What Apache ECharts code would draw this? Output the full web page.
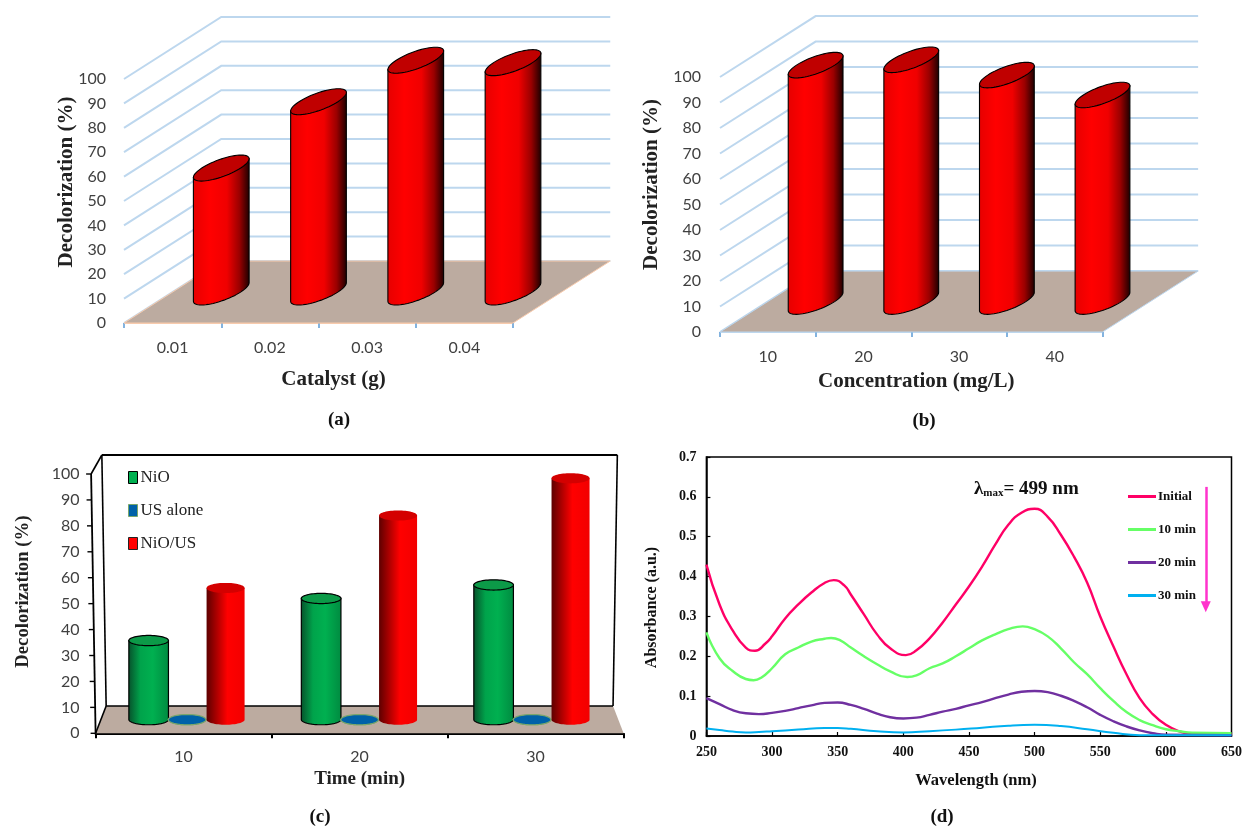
<!DOCTYPE html>
<html><head><meta charset="utf-8">
<style>html,body{margin:0;padding:0;background:#fff}#c{width:1245px;height:828px}</style>
<script src="https://cdn.jsdelivr.net/npm/echarts@6/dist/echarts.min.js"></script>
</head><body><div id="c"></div>
<script>
const ticks100 = [0,10,20,30,40,50,60,70,80,90,100];
const catalystCats = ['0.01','0.02','0.03','0.04'];
const catalystVals = [50.8,78,95,94];
const concCats = ['10','20','30','40'];
const concVals = [92.7,94.8,88.8,81];
const timeCats = ['10','20','30'];
const nioVals = [31,47.5,52.8];
const usVals = [0,0,0];
const nioUsVals = [51.6,80,94.6];
const initialCurve = [[250,.43],[260,.33],[270,.265],[280,.222],[287,.214],[295,.232],[300,.25],[310,.295],[320,.33],[330,.36],[340,.384],[347,.391],[355,.378],[360,.355],[370,.305],[380,.255],[390,.22],[402,.203],[410,.215],[420,.245],[430,.285],[440,.33],[450,.375],[460,.425],[470,.48],[480,.53],[490,.56],[500,.57],[510,.55],[520,.505],[530,.45],[540,.385],[550,.3],[560,.225],[570,.155],[580,.095],[590,.055],[600,.028],[610,.012],[620,.005],[630,.005],[650,.005]];
const tenMinCurve = [[250,.26],[260,.195],[270,.163],[280,.143],[286,.14],[292,.147],[300,.17],[310,.205],[320,.222],[330,.237],[340,.244],[345,.246],[352,.24],[360,.222],[370,.2],[380,.18],[390,.162],[403,.148],[410,.152],[420,.17],[430,.182],[440,.2],[450,.22],[460,.24],[470,.255],[480,.268],[491,.275],[500,.268],[510,.25],[520,.22],[530,.185],[540,.155],[550,.12],[560,.088],[570,.06],[580,.04],[590,.027],[600,.017],[610,.012],[620,.008],[650,.007]];
const twentyMinCurve = [[250,.095],[260,.08],[270,.065],[280,.057],[290,.055],[300,.058],[310,.063],[320,.07],[330,.077],[340,.083],[350,.084],[360,.078],[370,.068],[380,.056],[390,.047],[400,.044],[410,.046],[420,.053],[430,.061],[440,.068],[450,.077],[460,.085],[470,.095],[480,.104],[490,.111],[500,.113],[510,.11],[520,.101],[530,.088],[540,.072],[550,.053],[560,.037],[570,.024],[580,.014],[590,.007],[600,.003],[650,.002]];
const thirtyMinCurve = [[250,.019],[260,.015],[270,.011],[280,.009],[290,.01],[300,.012],[320,.016],[340,.02],[350,.02],[360,.018],[380,.012],[400,.009],[420,.012],[440,.016],[460,.021],[480,.026],[500,.028],[520,.025],[540,.017],[560,.008],[580,.002],[600,.002],[650,.002]];

const SERIF='"Liberation Serif","Times New Roman",serif', SANS='Lato,"Open Sans",sans-serif';
const GRID='#bdd7ee', FLOOR='#bcaba0', TICK='#5b9bd5', LBL='#404040';

function grad(stops){return {type:'linear',x:0,y:0,x2:1,y2:0,colorStops:stops.map(s=>({offset:s[0],color:s[1]}))};}
const redA=grad([[0,'#e60000'],[.3,'#ff0000'],[.6,'#f00000'],[.82,'#9a0000'],[1,'#1a0000']]);
const redC=grad([[0,'#5e0000'],[.28,'#b00000'],[.55,'#ff0000'],[1,'#f20000']]);
const greenC=grad([[0,'#07502b'],[.3,'#00a34b'],[.6,'#00b050'],[1,'#008a40']]);

function ell(c,rx,dx,dy,t){return [c[0]+rx*Math.cos(t)+dx*Math.sin(t),c[1]+dy*Math.sin(t)];}
function cylinder(top,bot,rx,dx,dy,body,cap,stroke,lw){
  const t0=Math.atan2(dx,rx),pts=[],rim=[];
  pts.push(ell(top,rx,dx,dy,t0+Math.PI));
  for(let i=0;i<=32;i++) pts.push(ell(bot,rx,dx,dy,t0-Math.PI+i*Math.PI/32));
  pts.push(ell(top,rx,dx,dy,t0));
  for(let i=0;i<64;i++) rim.push(ell(top,rx,dx,dy,i*Math.PI/32));
  return [
    {type:'polygon',shape:{points:pts},style:{fill:body,stroke:stroke,lineWidth:lw}},
    {type:'polygon',shape:{points:rim},style:{fill:cap,stroke:stroke,lineWidth:lw}}
  ];
}
/* oblique panels (a),(b): depth is one category band to the right and a share of the plot height upwards */
function obliqueGeom(api,n,rise){
  const band=api.size([1,0])[0], y0=api.coord([0,0])[1], h=y0-api.coord([0,100])[1];
  return {band,y0,h,left:api.coord([0,0])[0]-band/2,right:api.coord([0,0])[0]-band/2+band*n,dx:band,dy:rise*h};
}
function wallSeries(name,g,cats,rise){return {type:'custom',name:name,xAxisIndex:g,yAxisIndex:g,silent:true,z:1,
  data:ticks100.map(v=>[cats[0],v]),
  renderItem(p,api){const m=obliqueGeom(api,cats.length,rise),y=api.coord([0,api.value(1)])[1];
    return {type:'polyline',shape:{points:[[m.left,y],[m.left+m.dx,y-m.dy],[m.right+m.dx,y-m.dy]]},style:{fill:'none',stroke:GRID,lineWidth:2}};}};}
function floorSeries(name,g,cats,rise,edge){return {type:'custom',name:name,xAxisIndex:g,yAxisIndex:g,silent:true,z:2,
  data:[[cats[0],0]],
  renderItem(p,api){const m=obliqueGeom(api,cats.length,rise);
    return {type:'polygon',shape:{points:[[m.left,m.y0],[m.right,m.y0],[m.right+m.dx,m.y0-m.dy],[m.left+m.dx,m.y0-m.dy]]},style:{fill:FLOOR,stroke:edge,lineWidth:1}};}};}
function barSeries(name,g,cats,vals,rise){return {type:'custom',name:name,xAxisIndex:g,yAxisIndex:g,z:3,
  data:cats.map((c,i)=>[c,vals[i]]),
  renderItem(p,api){const m=obliqueGeom(api,cats.length,rise),i=api.value(0),v=api.value(1);
    const cx=api.coord([i,0])[0]+m.dx/2, off=m.dy/2;
    const bot=[cx,m.y0-off], top=[cx,api.coord([i,v])[1]-off];
    return {type:'group',children:cylinder(top,bot,.2*m.band,.205*m.band,-.21*m.dy,redA,'#c00000','#000',1.1)};}};}

/* panel (c): slight perspective box */
function persp(api,fx,v,d){
  const band=api.size([1,0])[0],cx=api.coord([1,0])[0],y0=api.coord([0,0])[1],h=y0-api.coord([0,100])[1],yv=api.coord([0,v])[1];
  return [cx+(fx-1.5)*band*(1-.04*d)*(1+.00017*v), yv+(y0-yv)*.032*d-.1053*h*d];
}
const frameC={type:'custom',name:'frame',xAxisIndex:2,yAxisIndex:2,silent:true,z:1,data:[[timeCats[0],0]],
  renderItem(p,api){const L=(a,b,w)=>({type:'line',shape:{x1:a[0],y1:a[1],x2:b[0],y2:b[1]},style:{stroke:'#000',lineWidth:w}});
    const c=[
      {type:'polygon',shape:{points:[persp(api,0,0,0),persp(api,3,0,0),persp(api,3,0,1),persp(api,0,0,1)]},style:{fill:FLOOR}},
      L(persp(api,0,0,1),persp(api,0,100,1),1.6),L(persp(api,0,100,1),persp(api,3,100,1),1.8),
      L(persp(api,3,100,1),persp(api,3,0,1),1.6),L(persp(api,0,0,1),persp(api,3,0,1),1.6),
      L(persp(api,0,0,0),persp(api,0,0,1),1.6),L(persp(api,0,100,0),persp(api,0,100,1),1.6),
      L(persp(api,0,0,0),persp(api,0,100,0),1.8)];
    ticks100.forEach(v=>{const a=persp(api,0,v,0);c.push(L(a,[a[0]-5,a[1]],1.4));});
    return {type:'group',children:c};}};
function barC(name,vals,slot,rxF,body,cap,stroke,colour){return {type:'custom',name:name,xAxisIndex:2,yAxisIndex:2,z:3,itemStyle:{color:colour},
  data:timeCats.map((c,i)=>[c,vals[i]]),
  renderItem(p,api){const i=api.value(0),v=api.value(1),band=api.size([1,0])[0];
    const bot=persp(api,i+.5+slot,0,.5),top=[bot[0],persp(api,i+.5+slot,v,.5)[1]];
    return {type:'group',children:cylinder(top,bot,rxF*band,0,-.029*band,body,cap,stroke,stroke==='none'?0:1.2)};}};}

function cat3d(g,cats,edge,nameTxt,gap,pad,lblMargin,fs){return {type:'category',gridIndex:g,data:cats,nameMoveOverlap:false,
  axisLine:{lineStyle:{color:edge,width:g===2?2:1}},axisTick:{show:true,length:5,alignWithLabel:false,lineStyle:{color:g===2?'#000':TICK,width:g===2?2:1.5}},
  axisLabel:{interval:0,margin:lblMargin,color:LBL,fontFamily:SANS,fontSize:16},splitLine:{show:false},
  name:nameTxt,nameLocation:'middle',nameGap:gap,nameTextStyle:{fontFamily:SERIF,fontWeight:'bold',fontSize:fs,color:'#222',padding:pad}};}
function val3d(g,nameTxt,gap,pad,margin,fs){return {type:'value',gridIndex:g,min:0,max:100,interval:10,nameMoveOverlap:false,
  axisLine:{show:false},axisTick:{show:false},splitLine:{show:false},
  axisLabel:{margin:margin,color:LBL,fontFamily:SANS,fontSize:16,padding:[3,0,0,0]},
  name:nameTxt,nameLocation:'middle',nameGap:gap,nameRotate:90,nameTextStyle:{fontFamily:SERIF,fontWeight:'bold',fontSize:fs,color:'#222',padding:pad}};}

const capStyle={fontFamily:SERIF,fontWeight:'bold',fontSize:19,color:'#111'};
const cap=(t,x,y)=>({text:t,left:x,top:y,textAlign:'center',textStyle:capStyle,padding:0});
const boldSerif=(s)=>({fontFamily:SERIF,fontWeight:'bold',fontSize:s,color:'#111'});
const curve=(name,data,colour,w,extra)=>Object.assign({type:'line',name:name,xAxisIndex:3,yAxisIndex:3,data:data,smooth:.5,showSymbol:false,symbol:'none',
     lineStyle:{color:colour,width:w},itemStyle:{color:colour}},extra||{});

const option={
  backgroundColor:'#fff',animation:false,
  title:[cap('(a)',339,411),cap('(b)',924,412),cap('(c)',320,808),cap('(d)',942,808)],
  grid:[
    {left:124,top:79,width:389,height:244},
    {left:720,top:77,width:382.5,height:255},
    {left:95.6,top:474,width:528,height:259.3},
    {left:706.4,top:457,width:528.2,height:279,show:true,borderColor:'#000',borderWidth:1.5}
  ],
  xAxis:[
    cat3d(0,catalystCats,'#f8cbad','Catalyst (g)',46,[0,0,0,30],17,21),
    cat3d(1,concCats,'#bdd7ee','Concentration (mg/L)',39,[0,0,0,10],17,21),
    cat3d(2,timeCats,'#000','Time (min)',36,[0,0,0,0],16,19),
    {type:'value',gridIndex:3,min:250,max:650,interval:50,nameMoveOverlap:false,axisLine:{lineStyle:{color:'#000',width:1.5}},
     axisTick:{inside:true,length:4,lineStyle:{color:'#000',width:1.2}},splitLine:{show:false},
     axisLabel:{margin:9,color:'#111',fontFamily:SERIF,fontWeight:'bold',fontSize:14,hideOverlap:false},
     name:'Wavelength (nm)',nameLocation:'middle',nameGap:36,nameTextStyle:{...boldSerif(16.5),padding:[0,0,0,14]}}
  ],
  yAxis:[
    val3d(0,'Decolorization (%)',47,[0,0,0,38],18,21),
    val3d(1,'Decolorization (%)',58,[0,0,0,40],19,21),
    val3d(2,'Decolorization (%)',63,[0,0,0,24],16,18.7),
    {type:'value',gridIndex:3,min:0,max:.7,interval:.1,nameMoveOverlap:false,axisLine:{lineStyle:{color:'#000',width:1.5}},
     axisTick:{inside:true,length:4,lineStyle:{color:'#000',width:1.2}},splitLine:{show:false},
     axisLabel:{margin:10,color:'#111',fontFamily:SERIF,fontWeight:'bold',fontSize:14},
     name:'Absorbance (a.u.)',nameLocation:'middle',nameGap:47,nameRotate:90,nameTextStyle:{...boldSerif(16),padding:[0,0,0,-22]}}
  ],
  legend:[
    {orient:'vertical',left:128,top:469,padding:0,itemWidth:9,itemHeight:12,itemGap:16,selectedMode:false,icon:'rect',
     textStyle:{fontFamily:SERIF,fontSize:17,color:'#222',padding:[0,0,0,-2]},
     data:[{name:'NiO',itemStyle:{color:'#00b050',borderColor:'#000',borderWidth:1}},
           {name:'US alone',itemStyle:{color:'#0061a8',borderColor:'#7aa76a',borderWidth:1}},
           {name:'NiO/US',itemStyle:{color:'#ff0000',borderColor:'#222',borderWidth:1}}]},
    {orient:'vertical',left:1128,top:490,padding:0,itemWidth:28,itemHeight:3,itemGap:20,selectedMode:false,icon:'rect',
     textStyle:{...boldSerif(13),padding:[0,0,0,-3]},
     data:['Initial','10 min','20 min','30 min']}
  ],
  graphic:[{type:'text',left:974,top:480,silent:true,style:{
     text:'{a|λ}{b|max}{a|= 499 nm}',
     rich:{a:{fontFamily:SERIF,fontWeight:'bold',fontSize:19,fill:'#111',color:'#111'},
           b:{fontFamily:SERIF,fontWeight:'bold',fontSize:11,fill:'#111',color:'#111',padding:[7,0,0,0]}}}}],
  series:[
    wallSeries('walls a',0,catalystCats,.254),floorSeries('floor a',0,catalystCats,.254,'#f8cbad'),
    barSeries('Decolorization a',0,catalystCats,catalystVals,.254),
    wallSeries('walls b',1,concCats,.239),floorSeries('floor b',1,concCats,.239,'#bdd7ee'),
    barSeries('Decolorization b',1,concCats,concVals,.239),
    frameC,
    barC('NiO',nioVals,-.223,.1125,greenC,'#0c9a48','#000','#00b050'),
    barC('US alone',usVals,0,.107,'#0061a8','#0061a8','#7aa76a','#0061a8'),
    barC('NiO/US',nioUsVals,.223,.108,redC,'#d40000','none','#ff0000'),
    curve('Initial',initialCurve,'#ff0066',2.4,{markLine:{silent:true,symbol:['none','triangle'],symbolSize:[10,11],label:{show:false},
       lineStyle:{color:'#ff33cc',width:2.5,type:'solid'},data:[[{coord:[630.4,.625]},{coord:[630.4,.324]}]]}}),
    curve('10 min',tenMinCurve,'#66ff66',2.4),
    curve('20 min',twentyMinCurve,'#7030a0',2.4),
    curve('30 min',thirtyMinCurve,'#00b0f0',2)
  ]
};
const chart=echarts.init(document.getElementById('c'),null,{renderer:'canvas',width:1245,height:828});
chart.setOption(option);
</script></body></html>
